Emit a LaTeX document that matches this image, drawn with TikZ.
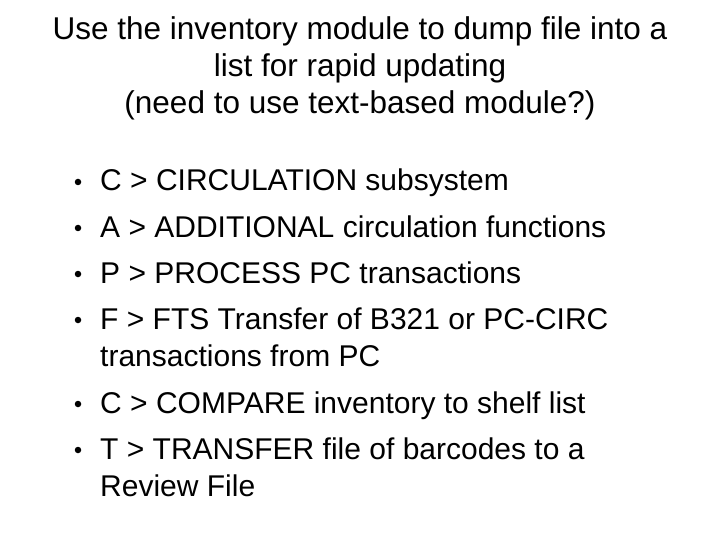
\documentclass[tikz,border=0pt]{standalone}
\usepackage{fontspec}
\setmainfont{Liberation Sans}
\begin{document}
\begin{tikzpicture}[x=1pt,y=-1pt,
  txt/.style={inner sep=0pt,anchor=base west,font=\fontsize{30}{34}\selectfont},
  ttl/.style={inner sep=0pt,anchor=base,font=\fontsize{31.5}{36}\selectfont},
  bul/.style={circle,fill=black,inner sep=0pt,minimum size=6.5pt}]
\useasboundingbox (0,0) rectangle (720,540);
\node[ttl] (t1) at (360,40) {Use the inventory module to dump file into a};
\node[ttl] (t2) at (360,77) {list for rapid updating};
\node[ttl] (t3) at (360,114) {(need to use text-based module?)};
\foreach \y/\n in {182/b1,228/b2,274/b3,320/b4,404/b5,450/b6}
  \node[bul] (\n) at (78,\y) {};
\node[txt] (l1) at (100,191) {C > CIRCULATION subsystem};
\node[txt] (l2) at (100,237) {A > ADDITIONAL circulation functions};
\node[txt] (l3) at (100,283) {P > PROCESS PC transactions};
\node[txt] (l4) at (100,329) {F > FTS Transfer of B321 or PC-CIRC};
\node[txt] (l4b) at (100,366) {transactions from PC};
\node[txt] (l5) at (100,413) {C > COMPARE inventory to shelf list};
\node[txt] (l6) at (100,459) {T > TRANSFER file of barcodes to a};
\node[txt] (l6b) at (100,496) {Review File};
\end{tikzpicture}
\end{document}
